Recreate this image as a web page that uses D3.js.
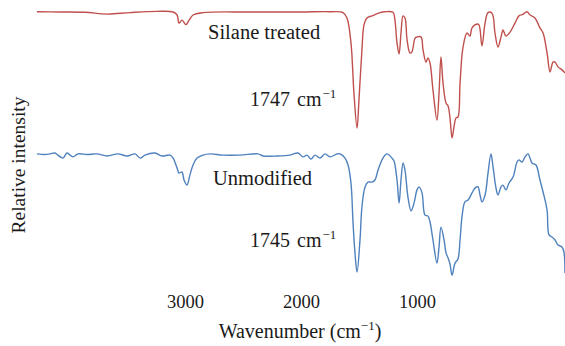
<!DOCTYPE html>
<html>
<head>
<meta charset="utf-8">
<script src="https://cdn.jsdelivr.net/npm/d3@7"></script>
<style>
  html, body { margin: 0; padding: 0; background: #fff; }
  svg { display: block; }
  text { font-family: "Liberation Serif", "Times New Roman", serif; fill: #1a1a1a; }
</style>
</head>
<body>
<svg id="chart" width="565" height="346"></svg>
<script>
// Wavenumbers (cm^-1) and relative intensities
const silaneWavenumber = [3910,3754,3585,3436,3281,3099,2990,2963,2950,2930,2903,2882,2855,2788,2470,2132,1930,1842,1815,1788,1768,1747,1734,1714,1700,1680,1646,1592,1558,1504,1491,1477,1463,1450,1436,1423,1409,1389,1376,1355,1342,1315,1301,1281,1268,1254,1234,1207,1193,1180,1166,1146,1132,1119,1105,1092,1078,1065,1051,1031,1004,984,970,936,923,903,882,862,835,815,795,774,761,741,713,680,653,626,599,578,545,511,490,463,443,423,409,389,362,342];
const silaneIntensity  = [96.1,96,95.9,95.3,95.8,96.2,96,95,92.3,93.3,91.8,93.3,95,95.8,96,96,96.1,95.8,94,85.7,69,57.3,66.7,83.3,91.7,94,94.7,95.8,96.1,95.9,93.3,85.7,82,89,94.7,94,86.7,82.3,82.7,87.3,87.7,87.7,83.3,79.3,80.7,79,70,60,69,81,72.3,65.7,64.7,60.7,54,57.7,60.7,61,72.3,84.3,89,88,90.7,92,91.7,84.7,92.3,95.8,95.6,89,84.3,87.7,90,88,89.3,92.3,94.7,95.2,96.1,95,94,90.7,89,82.3,76,79.3,79.3,77.7,76.7,75.7];

const unmodWavenumber = [3910,3855,3822,3788,3768,3734,3707,3686,3666,3632,3572,3504,3436,3362,3301,3247,3213,3180,3112,3065,3011,2990,2963,2950,2930,2916,2896,2876,2855,2828,2788,2740,2653,2538,2416,2382,2288,2200,2146,2112,2085,2058,2031,1997,1964,1930,1882,1862,1828,1808,1788,1774,1760,1747,1727,1714,1693,1673,1646,1626,1605,1572,1545,1511,1497,1477,1463,1450,1436,1423,1403,1382,1362,1342,1328,1308,1288,1268,1254,1234,1207,1193,1180,1159,1146,1132,1119,1105,1085,1065,1051,1038,1018,997,970,950,930,916,903,882,862,842,828,808,795,774,761,741,720,693,666,653,632,612,592,565,538,511,490,463,450,430,409,389,362,349,342];
const unmodIntensity  = [48.7,48.5,48.7,49,48.3,47.3,49,48.3,47.7,48.7,48.5,48.7,48,48.7,48,48.7,47.3,48.3,49,48,48.3,47.3,44,42.3,42.7,40,38.3,41.7,45,47.3,48.3,48.7,48.3,48.3,48.7,48,48,48.3,49,47.7,48.3,47,48.3,47.3,48.7,47.7,48.7,48.7,47.3,45,39,25.7,15,9.3,20,31,37.7,39.3,39.3,40,43.3,47.3,48.7,47.3,46.3,40,32.3,40,45.7,43.3,34.3,29.7,32.3,36.7,37.7,35.7,28.3,28,26,20,12.3,17.7,24.3,20,15.7,14,12,8.3,12.3,13.7,20,27.7,32.7,33.3,35.7,37.3,37.7,35,32.7,35,42.3,48.7,44.3,37.3,35,37.7,38.3,36.7,39,41,46,46.7,46,47.7,48.7,45.7,45,40,36,30,21.7,21,20,18.3,17.7,16,9];

// Axis tick labels (positioned as printed in the figure)
const tickLabels = [3000, 2000, 1000];

const svg = d3.select("#chart");

// data scales
const x = d3.scaleLinear().domain([4000, 400]).range([23.6, 556.4]);
const y = d3.scaleLinear().domain([0, 100]).range([300, 0]);
// printed-tick scale
const xTicks = d3.scaleLinear().domain([3000, 1000]).range([185, 417]);

const line = d3.line().x(d => x(d[0])).y(d => y(d[1])).curve(d3.curveCatmullRom.alpha(0.5));

svg.append("path")
  .datum(d3.zip(silaneWavenumber, silaneIntensity))
  .attr("fill", "none").attr("stroke", "#c0504d").attr("stroke-width", 1.4)
  .attr("d", line);

svg.append("path")
  .datum(d3.zip(unmodWavenumber, unmodIntensity))
  .attr("fill", "none").attr("stroke", "#4f81bd").attr("stroke-width", 1.4)
  .attr("d", line);

// bottom axis: labels only
const axisG = svg.append("g").attr("transform", "translate(0,291)")
  .call(d3.axisBottom(xTicks).tickValues(tickLabels).tickSize(0).tickPadding(0).tickFormat(d3.format("d")));
axisG.select(".domain").remove();
axisG.selectAll("text").attr("font-family", "Liberation Serif").attr("font-size", 18.5).attr("fill", "#1a1a1a").attr("dy", "0.9em");

// axis titles
const xt = svg.append("text").attr("x", 300).attr("y", 338).attr("text-anchor", "middle").attr("font-size", 20);
xt.append("tspan").text("Wavenumber (cm");
xt.append("tspan").attr("font-size", 13).attr("dy", -8).text("−1");
xt.append("tspan").attr("dy", 8).text(")");

svg.append("text").attr("transform", "translate(25,165) rotate(-90)")
  .attr("text-anchor", "middle").attr("font-size", 19.5).text("Relative intensity");

// series labels
svg.append("text").attr("x", 208).attr("y", 39).attr("font-size", 20.5).text("Silane treated");
svg.append("text").attr("x", 213).attr("y", 185).attr("font-size", 20.5).text("Unmodified");

function wn(xpos, ypos, label) {
  const t = svg.append("text").attr("x", xpos).attr("y", ypos).attr("font-size", 20);
  t.append("tspan").text(label);
  t.append("tspan").attr("x", xpos + 47).text("cm");
  t.append("tspan").attr("font-size", 13).attr("dy", -8).attr("dx", 1).text("−1");
}
wn(250, 106, "1747");
wn(250, 247, "1745");
</script>
</body>
</html>
